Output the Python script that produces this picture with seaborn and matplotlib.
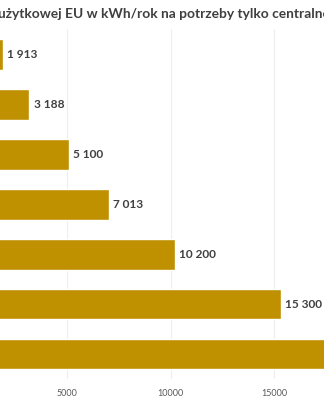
import matplotlib
matplotlib.use("Agg")
import matplotlib.pyplot as plt
import seaborn as sns
import pandas as pd

# Data
categories = ["1", "2", "3", "4", "5", "6", "7"]
values = [1913, 3188, 5100, 7013, 10200, 15300, 20400]
labels = ["1 913", "3 188", "5 100", "7 013", "10 200", "15 300", "20 400"]
xticks = [5000, 10000, 15000]
title = "użytkowej EU w kWh/rok na potrzeby tylko centralnego ogrzewania"

sns.set_theme(style="white")
plt.rcParams['font.family'] = ['Lato', 'DejaVu Sans']

df = pd.DataFrame({"cat": categories, "val": values})

W, H = 324, 400
fig = plt.figure(figsize=(W / 100, H / 100), dpi=100)
fig.patch.set_facecolor("white")

px_per_unit = 0.02075
x0_px = -36.75
xmax = 22000
ax = fig.add_axes([x0_px / W, (H - 379) / H, xmax * px_per_unit / W, 350 / H])

sns.barplot(data=df, x="val", y="cat", orient="h", color="#BF9000",
            saturation=1, width=0.62, ax=ax)
ax.set_xlim(0, xmax)
ax.set_ylim(6.5, -0.5)
ax.set_xticks(xticks)
ax.set_xticklabels([str(t) for t in xticks], fontsize=6.5, color="#595959")
ax.tick_params(axis="x", length=0, pad=7)
ax.set_yticks([])
ax.set_xlabel("")
ax.set_ylabel("")
ax.grid(axis="x", color="#EEEEEE", linewidth=0.8)
ax.set_axisbelow(True)
for s in ax.spines.values():
    s.set_visible(False)

for i, (v, lab) in enumerate(zip(values, labels)):
    ax.annotate(lab, (v, i), xytext=(3, 0), textcoords="offset points",
                ha="left", va="center", fontsize=8.6, fontweight="bold",
                color="#404040")

fig.text(-2 / W, 1 - 14 / H, title, ha="left", va="center",
         fontsize=9.9, fontweight="bold", color="#3F3F3F")

fig.savefig("out.png", dpi=100)
